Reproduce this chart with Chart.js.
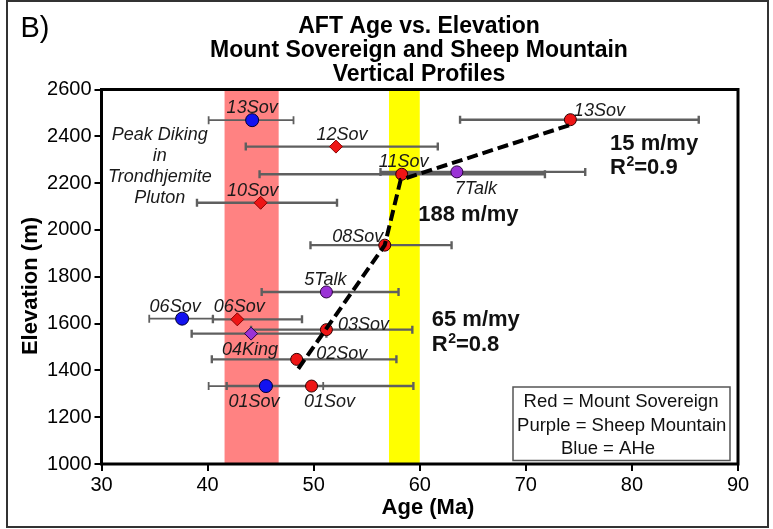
<!DOCTYPE html>
<html>
<head>
<meta charset="utf-8">
<script src="https://cdn.jsdelivr.net/npm/chart.js@4/dist/chart.umd.min.js"></script>
<style>
  html, body { margin: 0; padding: 0; background: #fff; }
  #wrap { width: 773px; height: 529px; }
</style>
</head>
<body>
<div id="wrap"><canvas id="c" width="773" height="529"></canvas></div>
<script>
// ---- Axis ticks ----
const ageTicks = [30, 40, 50, 60, 70, 80, 90];
const elevTicks = [1000, 1200, 1400, 1600, 1800, 2000, 2200, 2400, 2600];

// ---- Mount Sovereign AFT ages (red) ----
const sovNames  = ['13Sov', '12Sov', '11Sov', '10Sov', '08Sov', '06Sov', '03Sov', '02Sov', '01Sov'];
const sovAge    = [74.2, 52.1, 58.3, 45.0, 56.7, 42.8, 51.2, 48.4, 49.8];
const sovElev   = [2471, 2356, 2238, 2116, 1935, 1618, 1574, 1447, 1333];
const sovAgeLo  = [63.8, 43.6, 44.9, 39.0, 49.7, 40.5, 44.1, 40.4, 41.8];
const sovAgeHi  = [86.3, 61.7, 71.8, 52.2, 63.0, 48.9, 59.3, 57.8, 59.4];
const sovShape  = ['circle', 'rectRot', 'circle', 'rectRot', 'circle', 'rectRot', 'circle', 'circle', 'circle'];

// ---- Sheep Mountain AFT ages (purple) ----
const shpNames  = ['7Talk', '5Talk', '04King'];
const shpAge    = [63.5, 51.2, 44.1];
const shpElev   = [2248, 1735, 1557];
const shpAgeLo  = [56.3, 45.1, 38.5];
const shpAgeHi  = [75.6, 58.0, 51.2];
const shpShape  = ['circle', 'circle', 'rectRot'];

// ---- AHe ages (blue) ----
const aheNames  = ['13Sov', '06Sov', '01Sov'];
const aheAge    = [44.2, 37.6, 45.5];
const aheElev   = [2469, 1621, 1333];
const aheAgeLo  = [40.1, 34.5, 40.1];
const aheAgeHi  = [48.1, 40.5, 50.9];

// ---- Exhumation-rate regression segments ----
const trendAge  = [48.55, 56.7, 58.2, 74.2];
const trendElev = [1407, 1935, 2214, 2449];

// ---- Shaded age intervals ----
const dikingBand = [41.6, 46.7];
const yellowBand = [57.1, 60.0];

// ---- Label offsets (px) from each marker ----
const sovLabelOff = [[29, -10], [6, -13], [2, -14], [-8, -13], [-27, -10], [2, -14], [37, -6], [45, -7], [18, 15]];
const shpLabelOff = [[19, 16], [-1, -13], [-1, 15]];
const aheLabelOff = [[0, -14], [-7, -13], [-12, 15]];

const FONT = '"Liberation Sans", Arial, Helvetica, sans-serif';
const RED = '#EE1515', PURPLE = '#9A32D6', BLUE = '#1212F0', BAR = '#5f5f5f';

function pts(a, e) { return a.map((v, i) => ({ x: v, y: e[i] })); }

const series = [
  { age: sovAge, elev: sovElev, lo: sovAgeLo, hi: sovAgeHi, names: sovNames, off: sovLabelOff, bw: 2.4 },
  { age: shpAge, elev: shpElev, lo: shpAgeLo, hi: shpAgeHi, names: shpNames, off: shpLabelOff, bw: 2.4 },
  { age: aheAge, elev: aheElev, lo: aheAgeLo, hi: aheAgeHi, names: aheNames, off: aheLabelOff, bw: 1.8 }
];

// bold text with a raised "2" for R-squared values
function drawR2(ctx, value, px, py) {
  ctx.font = 'bold 22px ' + FONT;
  ctx.fillText('R', px, py);
  let w = ctx.measureText('R').width;
  ctx.font = 'bold 14px ' + FONT;
  ctx.fillText('2', px + w + 0.5, py - 8);
  w += ctx.measureText('2').width + 0.5;
  ctx.font = 'bold 22px ' + FONT;
  ctx.fillText('=' + value, px + w, py);
}

const decor = {
  id: 'decor',
  beforeDatasetsDraw(chart) {
    const { ctx, chartArea: ca, scales: { x, y } } = chart;
    ctx.save();
    ctx.beginPath();
    ctx.rect(ca.left, ca.top, ca.right - ca.left, ca.bottom - ca.top);
    ctx.clip();
    // shaded intervals
    ctx.fillStyle = '#FF8282';
    ctx.fillRect(x.getPixelForValue(dikingBand[0]), ca.top, x.getPixelForValue(dikingBand[1]) - x.getPixelForValue(dikingBand[0]), ca.bottom - ca.top);
    ctx.fillStyle = '#FFFF00';
    ctx.fillRect(x.getPixelForValue(yellowBand[0]), ca.top, x.getPixelForValue(yellowBand[1]) - x.getPixelForValue(yellowBand[0]), ca.bottom - ca.top);
    // age error bars
    ctx.strokeStyle = BAR;
    ctx.lineCap = 'butt';
    series.forEach(s => {
      ctx.lineWidth = s.bw;
      s.age.forEach((a, i) => {
        const py = y.getPixelForValue(s.elev[i]);
        const x0 = x.getPixelForValue(s.lo[i]);
        const x1 = x.getPixelForValue(s.hi[i]);
        ctx.beginPath();
        ctx.moveTo(x0, py); ctx.lineTo(x1, py);
        ctx.moveTo(x0, py - 4); ctx.lineTo(x0, py + 4);
        ctx.moveTo(x1, py - 4); ctx.lineTo(x1, py + 4);
        ctx.stroke();
      });
    });
    ctx.restore();
  },
  afterDatasetsDraw(chart) {
    const { ctx, chartArea: ca, scales: { x, y } } = chart;
    ctx.save();
    // sample labels
    ctx.fillStyle = '#1a1a1a';
    ctx.font = 'italic 18px ' + FONT;
    ctx.textAlign = 'center';
    ctx.textBaseline = 'alphabetic';
    series.forEach(s => {
      s.age.forEach((a, i) => {
        const px = x.getPixelForValue(a) + s.off[i][0];
        const py = y.getPixelForValue(s.elev[i]) + s.off[i][1];
        ctx.fillText(s.names[i], px, py + 6.4);
      });
    });
    // pluton note
    const note = ['Peak Diking', 'in', 'Trondhjemite', 'Pluton'];
    const noteElev = [2410, 2320, 2231, 2143];
    note.forEach((t, i) => ctx.fillText(t, x.getPixelForValue(35.5), y.getPixelForValue(noteElev[i]) + 6.4));
    // regression annotations
    ctx.fillStyle = '#111';
    ctx.font = 'bold 22px ' + FONT;
    ctx.textAlign = 'left';
    const rates = [['15 m/my', 77.94, 2377], ['188 m/my', 59.86, 2072], ['65 m/my', 61.13, 1624]];
    rates.forEach(([t, a, e]) => ctx.fillText(t, x.getPixelForValue(a), y.getPixelForValue(e) + 7.9));
    drawR2(ctx, '0.9', x.getPixelForValue(77.94), y.getPixelForValue(2271) + 7.9);
    drawR2(ctx, '0.8', x.getPixelForValue(61.13), y.getPixelForValue(1517) + 7.9);

    // plot frame
    ctx.strokeStyle = '#000';
    ctx.lineWidth = 3;
    ctx.strokeRect(ca.left, ca.top, ca.right - ca.left, ca.bottom - ca.top);

    // colour key
    ctx.fillStyle = '#fff';
    ctx.fillRect(513, 387, 217, 73.5);
    ctx.strokeStyle = '#555';
    ctx.lineWidth = 1.5;
    ctx.strokeRect(513, 387, 217, 73.5);
    ctx.fillStyle = '#111';
    ctx.font = '18.5px ' + FONT;
    ctx.textAlign = 'center';
    ctx.fillText('Red = Mount Sovereign', 621, 406.6);
    ctx.fillText('Purple = Sheep Mountain', 621.7, 430.9);
    ctx.fillText('Blue = AHe', 608, 454.3);

    // titles
    ctx.fillStyle = '#000';
    ctx.font = 'bold 23px ' + FONT;
    ctx.fillText('AFT Age vs. Elevation', 419, 32.5);
    ctx.fillText('Mount Sovereign and Sheep Mountain', 419, 56.8);
    ctx.fillText('Vertical Profiles', 419, 80.8);
    ctx.font = 'bold 22px ' + FONT;
    ctx.fillText('Age (Ma)', 428, 514);
    ctx.save();
    ctx.translate(36.7, 286);
    ctx.rotate(-Math.PI / 2);
    ctx.textAlign = 'center';
    ctx.fillText('Elevation (m)', 0, 0);
    ctx.restore();

    ctx.font = '29px ' + FONT;
    ctx.textAlign = 'left';
    ctx.fillText('B)', 20.5, 36.5);

    // outer figure border
    ctx.strokeStyle = '#333';
    ctx.lineWidth = 2;
    ctx.strokeRect(7, 1, 761, 526);
    ctx.restore();
  }
};

const markerBorder = '#300000';

new Chart(document.getElementById('c'), {
  type: 'scatter',
  data: {
    datasets: [
      {
        label: 'Regression',
        data: pts(trendAge, trendElev),
        showLine: true,
        borderColor: '#000',
        borderWidth: 4,
        borderDash: [11, 5],
        pointRadius: 0,
        order: 0
      },
      {
        label: 'Mount Sovereign',
        data: pts(sovAge, sovElev),
        pointStyle: sovShape,
        pointRadius: sovShape.map(s => s === 'circle' ? 6 : 6.5),
        backgroundColor: RED,
        borderColor: sovShape.map(s => s === 'circle' ? markerBorder : '#8a0000'),
        borderWidth: 1,
        order: 1
      },
      {
        label: 'Sheep Mountain',
        data: pts(shpAge, shpElev),
        pointStyle: shpShape,
        pointRadius: shpShape.map(s => s === 'circle' ? 6 : 6.5),
        backgroundColor: PURPLE,
        borderColor: '#2a0040',
        borderWidth: 1,
        order: 1
      },
      {
        label: 'AHe',
        data: pts(aheAge, aheElev),
        pointStyle: 'circle',
        pointRadius: 6.5,
        backgroundColor: BLUE,
        borderColor: '#000030',
        borderWidth: 1,
        order: 1
      }
    ]
  },
  options: {
    responsive: false,
    animation: false,
    events: [],
    layout: { padding: { top: 89.5, right: 35, left: 0, bottom: 0 } },
    plugins: { legend: { display: false }, title: { display: false }, tooltip: { enabled: false } },
    scales: {
      x: {
        type: 'linear',
        min: ageTicks[0], max: ageTicks[ageTicks.length - 1],
        afterBuildTicks: s => { s.ticks = ageTicks.map(v => ({ value: v })); },
        afterFit: s => { s.height = 65; },
        border: { display: false },
        grid: { drawOnChartArea: false, drawTicks: true, tickLength: 7, color: '#000', lineWidth: 2 },
        ticks: { color: '#000', font: { family: FONT, size: 20 }, padding: 2, maxRotation: 0, callback: v => String(v) }
      },
      y: {
        type: 'linear',
        min: elevTicks[0], max: elevTicks[elevTicks.length - 1],
        afterBuildTicks: s => { s.ticks = elevTicks.map(v => ({ value: v })); },
        afterFit: s => { s.width = 101.5; },
        border: { display: false },
        grid: { drawOnChartArea: false, drawTicks: true, tickLength: 7, color: '#000', lineWidth: 2 },
        ticks: { color: '#000', font: { family: FONT, size: 20 }, padding: 3, callback: v => String(v) }
      }
    }
  },
  plugins: [decor]
});
</script>
</body>
</html>
